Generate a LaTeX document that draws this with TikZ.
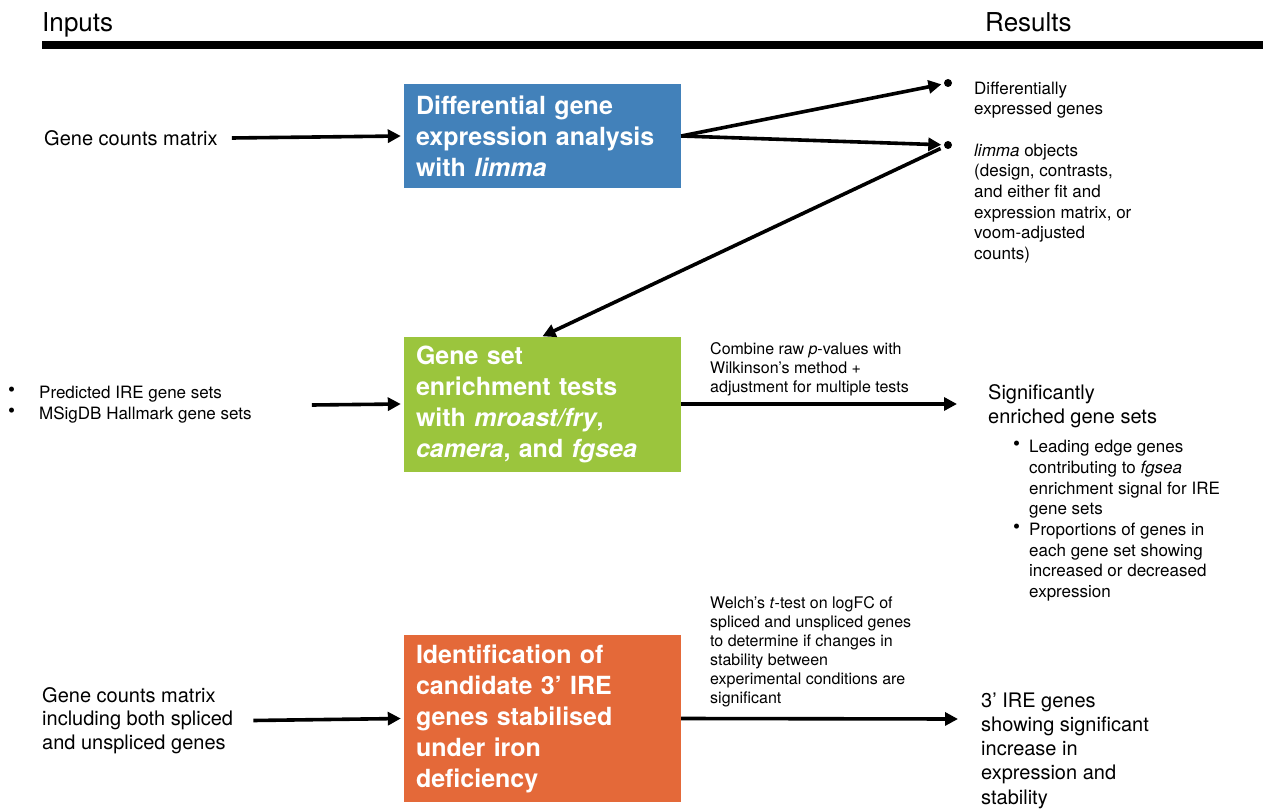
\documentclass[tikz,border=0pt]{standalone}
\definecolor{limmablue}{RGB}{66, 129, 186}
\definecolor{gseagreen}{RGB}{155, 197, 61}
\definecolor{ireorange}{RGB}{228, 105, 57}
\usepackage{fontspec}
\setmainfont{TeX Gyre Heros}
\usepackage{tikz}
\usetikzlibrary{arrows.meta, positioning}

\newcommand{\listdot}{\raisebox{2pt}[0pt][0pt]{\fontsize{20}{18}\selectfont •}}

\tikzset{
  stepbox/.style={minimum width=277pt, text width=253pt, inner xsep=12pt, inner ysep=0pt, align=left, text=white, font=\fontsize{25}{31}\selectfont\bfseries},
  flowarrow/.style={line width=3.6pt, -{Triangle[length=13pt, width=13pt]}},
  intext/.style={anchor=west, inner sep=0pt, align=left, font=\fontsize{20}{23.4}\selectfont},
  smalltext/.style={anchor=west, inner sep=0pt, align=left, font=\fontsize{17}{20.7}\selectfont},
  notetext/.style={anchor=west, inner sep=0pt, align=left, font=\fontsize{16}{19}\selectfont},
  outtext/.style={anchor=west, inner sep=0pt, align=left, font=\fontsize{20}{24.2}\selectfont},
  enddot/.style={circle, fill=black, inner sep=0pt, minimum size=8pt}
}

\begin{document}
\begin{tikzpicture}[x=1pt, y=-1pt]
  \useasboundingbox (0,0) rectangle (1263,810);

  % Header
  \node[anchor=base west, inner sep=0pt, font=\fontsize{26}{30}\selectfont] (inputs) at (42, 32) {Inputs};
  \node[anchor=base west, inner sep=0pt, font=\fontsize{26}{30}\selectfont] (results) at (985, 32) {Results};
  \fill (42, 41) rectangle (1263, 49);

  % Differential expression
  \node[stepbox, fill=limmablue, minimum height=104pt] (dge) at (542.5, 136) {Differential gene\\expression analysis\\with \textit{limma}};
  \node[intext] (counts) at (44, 138) {Gene counts matrix};
  \node[enddot] (dotA) at (948, 83) {};
  \node[enddot] (dotB) at (948, 145) {};
  \node[smalltext] (deg) at (974, 100) {Differentially\\expressed genes};
  \node[smalltext] (limmaobj) at (974, 203.5) {\textit{limma} objects\\(design, contrasts,\\and either fit and\\expression matrix, or\\voom-adjusted\\counts)};

  % Gene set enrichment
  \node[stepbox, fill=gseagreen, minimum height=135pt] (gsea) at (542.5, 404) {Gene set\\enrichment tests\\with \textit{mroast/fry},\\\textit{camera}, and \textit{fgsea}};
  \node[smalltext] (genesets) at (8, 405) {\begin{tabular}{@{}l@{\hspace{24pt}}l@{}}
    \listdot & Predicted IRE gene sets\\
    \listdot & MSigDB Hallmark gene sets
  \end{tabular}};
  \node[notetext] (combinelab) at (710, 369) {Combine raw \textit{p}-values with\\Wilkinson’s method +\\adjustment for multiple tests};
  \node[outtext] (enriched) at (988, 406) {Significantly\\enriched gene sets};
  \node[smalltext] (enrichedlist) at (1013, 521) {\begin{tabular}{@{}l@{\hspace{9pt}}l@{}}
    \listdot & Leading edge genes\\
      & contributing to \textit{fgsea}\\
      & enrichment signal for IRE\\
      & gene sets\\
    \listdot & Proportions of genes in\\
      & each gene set showing\\
      & increased or decreased\\
      & expression
  \end{tabular}};

  % Stability of 3' IRE genes
  \node[stepbox, fill=ireorange, minimum height=167pt] (ire) at (542.5, 718.5) {Identification of\\candidate 3’ IRE\\genes stabilised\\under iron\\deficiency};
  \node[intext] (spliced) at (42, 720.5) {Gene counts matrix\\including both spliced\\and unspliced genes};
  \node[notetext] (welchlab) at (710, 652) {Welch’s \textit{t}-test on logFC of\\spliced and unspliced genes\\to determine if changes in\\stability between\\experimental conditions are\\significant};
  \node[outtext] (iregenes) at (981, 750.5) {3’ IRE genes\\showing significant\\increase in\\expression and\\stability};
  \coordinate (iretip) at (958, 719);

  % Connectors
  \draw[flowarrow] ([xshift=14pt]counts.east) -- ([xshift=-3pt]dge.west);
  \draw[flowarrow, shorten >=2.5pt] (dge.east) -- (dotA);
  \draw[flowarrow, shorten >=2.5pt] (dge.east) -- (dotB);
  \draw[flowarrow, shorten <=4pt] (dotB) -- (gsea.north);
  \draw[flowarrow] ([xshift=60pt]genesets.east) -- ([xshift=-3pt]gsea.west);
  \draw[flowarrow] (gsea.east) -- ([xshift=-31pt]enriched.west |- gsea.east);
  \draw[flowarrow] ([xshift=20pt]spliced.east) -- ([xshift=-3pt]ire.west);
  \draw[flowarrow] (ire.east) -- (iretip);
\end{tikzpicture}
\end{document}
